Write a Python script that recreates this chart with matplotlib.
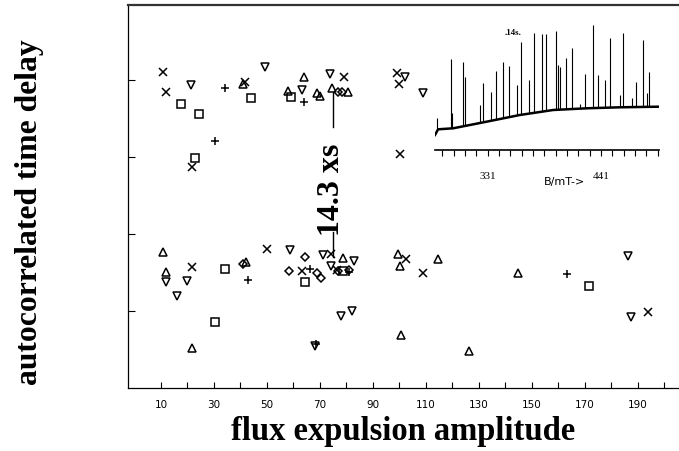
import matplotlib
matplotlib.use('Agg')
import matplotlib.pyplot as plt

# main scatter, one pair of lists per marker kind
cross_x = [10.6, 11.9, 21.6, 41.7, 79.1, 98.9, 99.9, 100.2, 21.6, 49.9, 63.1, 74.0, 76.4, 102.5, 109.0, 193.9]
cross_y = [4.10, 3.84, 2.87, 3.97, 4.04, 4.09, 3.94, 3.04, 1.57, 1.81, 1.52, 1.74, 1.53, 1.68, 1.49, 0.99]

up_x = [40.8, 58.0, 64.0, 68.8, 70.0, 74.6, 80.6, 10.9, 11.9, 21.6, 42.1, 78.8, 99.3, 100.2, 114.6, 100.5, 126.3, 144.8]
up_y = [3.94, 3.85, 4.03, 3.83, 3.79, 3.89, 3.84, 1.76, 1.50, 0.52, 1.63, 1.69, 1.74, 1.58, 1.67, 0.69, 0.48, 1.49]

down_x = [21.3, 49.2, 63.1, 73.8, 102.1, 109.0, 11.9, 19.7, 15.9, 58.7, 71.2, 82.8, 82.0, 77.8, 68.1, 186.1, 187.2, 74.2]
down_y = [3.93, 4.16, 3.87, 4.08, 4.04, 3.83, 1.37, 1.39, 1.19, 1.79, 1.73, 1.65, 1.00, 0.93, 0.55, 1.71, 0.92, 1.58]

square_x = [17.4, 24.5, 22.7, 44.0, 59.1, 34.3, 30.4, 64.3, 78.8, 171.6]
square_y = [3.69, 3.56, 2.98, 3.76, 3.77, 1.55, 0.86, 1.38, 1.52, 1.33]

plus_x = [30.4, 34.3, 64.1, 42.9, 66.2, 81.1, 163.1, 68.5]
plus_y = [3.21, 3.89, 3.71, 1.40, 1.54, 1.50, 1.48, 0.57]

diamond_x = [76.8, 78.3, 41.1, 64.3, 58.4, 69.0, 70.3, 76.9, 81.1]
diamond_y = [3.84, 3.84, 1.61, 1.70, 1.52, 1.49, 1.43, 1.52, 1.53]

x_ticks = list(range(10, 201, 10))
x_labels = [str(t) if t % 20 == 10 else '' for t in x_ticks]
y_ticks = [1, 2, 3, 4]

# inset trace (B in mT, height in arbitrary units)
base_b = [280.0, 283.0, 297.6, 330.0, 362.3, 394.6, 427.0, 459.3, 496.5]
base_h = [15.0, 20.7, 21.7, 28.3, 35.0, 40.0, 41.7, 42.7, 43.3]
spike_b = [281.5, 295.4, 296.7, 306.8, 309.0, 323.5, 326.2, 333.9, 339.0, 346.1, 352.0, 359.1,
           363.6, 371.4, 376.2, 384.0, 387.5, 397.0, 399.5, 401.1, 406.7, 412.5, 420.5, 425.4,
           433.4, 437.7, 444.8, 449.6, 459.3, 462.5, 470.7, 474.8, 481.3, 485.2, 487.2]
spike_h = [31.7, 90.7, 37.0, 87.7, 73.3, 45.0, 66.7, 58.3, 79.0, 88.3, 84.0, 65.0,
           107.7, 70.0, 116.7, 115.7, 115.7, 119.0, 85.0, 83.3, 91.7, 101.7, 46.0, 76.0,
           125.0, 75.0, 70.0, 111.7, 55.0, 117.3, 51.7, 68.3, 110.0, 56.7, 78.0]
inset_ticks = list(range(287, 497, 11))
inset_labels = ['331' if t == 331 else '441' if t == 441 else '' for t in inset_ticks]

serif = ['Liberation Serif', 'DejaVu Serif']

fig = plt.figure(figsize=(6.79, 4.51), dpi=100)
ax = fig.add_axes([128 / 679, 1 - 388 / 451, 1 - 128 / 679, 383 / 451])

mk = dict(linestyle='none', color='black', markerfacecolor='none', markeredgewidth=1.1)
ax.plot(cross_x, cross_y, marker='x', markersize=5.5, **mk)
ax.plot(up_x, up_y, marker='^', markersize=5.5, **mk)
ax.plot(down_x, down_y, marker='v', markersize=5.5, **mk)
ax.plot(square_x, square_y, marker='s', markersize=5.3, **mk)
ax.plot(plus_x, plus_y, marker='+', markersize=5.5, **mk)
ax.plot(diamond_x, diamond_y, marker='D', markersize=3.8, **mk)

# period marker between the two bands
ax.plot([74.9, 74.9], [3.83, 3.39], color='black', lw=1)
ax.plot([74.9, 74.9], [2.03, 1.70], color='black', lw=1)
ax.text(74.2, 2.57, '14.3 xs', rotation=90, ha='center', va='center',
        fontsize=23, fontweight='bold', family=serif)

ax.set_xlim(-2.45, 205.5)
ax.set_ylim(0, 4.97)
ax.set_xticks(x_ticks)
ax.set_xticklabels(x_labels, fontsize=7.5, family='DejaVu Sans')
ax.set_yticks(y_ticks)
ax.set_yticklabels([])
ax.tick_params(axis='x', direction='in', length=4, width=0.8, pad=9)
ax.tick_params(axis='y', direction='in', length=5, width=0.8)
ax.spines['right'].set_visible(False)
ax.spines['top'].set_linewidth(1.6)
ax.spines['top'].set_color('#333333')
ax.spines['left'].set_linewidth(0.9)
ax.spines['bottom'].set_linewidth(0.9)

ax.set_xlabel('flux expulsion amplitude', fontsize=23.5, fontweight='bold', family=serif, labelpad=4)
fig.text(30 / 679, 1 - 212 / 451, 'autocorrelated time delay', rotation=90, ha='center', va='center',
         fontsize=22.8, fontweight='bold', family=serif)

# inset spectrum
ins = fig.add_axes([435 / 679, 1 - 150 / 451, (658.7 - 435) / 679, 130 / 451])
ins.set_facecolor('none')
ins.vlines(spike_b, 4, spike_h, color='black', lw=0.8)
ins.fill_between(base_b, base_h, 4, color='white', zorder=2)
ins.plot(base_b, base_h, color='black', lw=1.8, zorder=3)
ins.text(355.5, 117, '.14s.', ha='center', va='center', fontsize=6.5, fontweight='bold', family=serif)
ins.set_xlim(280, 497)
ins.set_ylim(0, 130)
ins.set_xticks(inset_ticks)
ins.set_xticklabels(inset_labels, fontsize=8, family=serif)
ins.set_yticks([])
ins.tick_params(axis='x', direction='out', length=4, width=0.8, pad=12)
for side in ('top', 'right', 'left'):
    ins.spines[side].set_visible(False)
ins.spines['bottom'].set_linewidth(1.2)
ins.text(0.58, -0.25, 'B/mT->', transform=ins.transAxes, ha='center', va='center', fontsize=8, family='DejaVu Sans')

fig.savefig('out.png', dpi=100)
